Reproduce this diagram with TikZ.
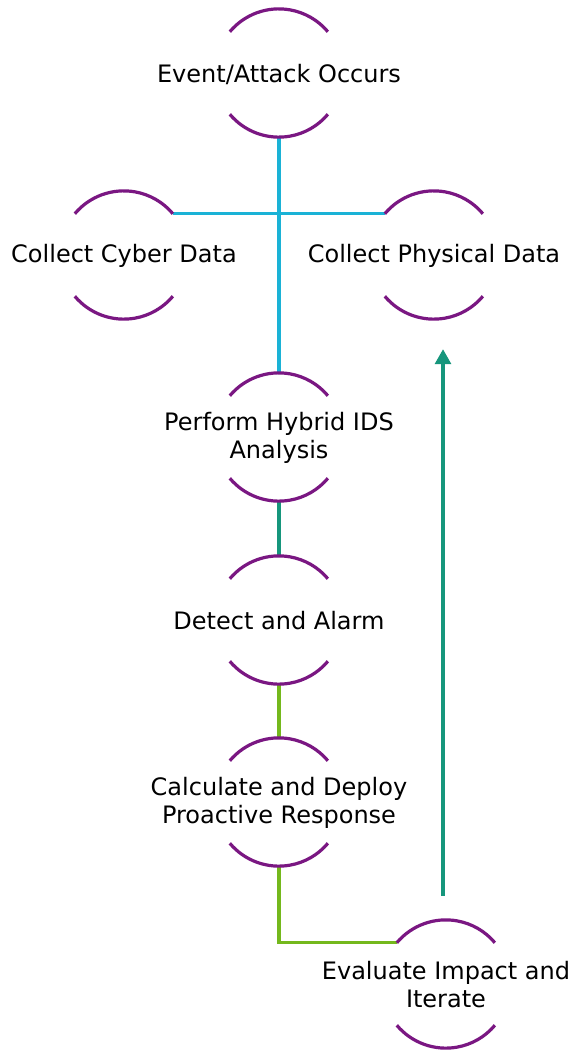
\documentclass[tikz,border=0pt]{standalone}
\usepackage{fontspec}
\setmainfont{DejaVu Sans}
\usetikzlibrary{arrows.meta}
\definecolor{bowpurple}{HTML}{7A1782}
\definecolor{linkcyan}{HTML}{1AB2D6}
\definecolor{linkteal}{HTML}{16967C}
\definecolor{linkgreen}{HTML}{74B81C}
\tikzset{
  bow/.style={circle, minimum size=128pt, inner sep=0pt, draw=none},
  bowarc/.style={draw=bowpurple, line width=3.2pt},
  txt/.style={align=center, font=\fontsize{24}{28}\selectfont, text=black, inner sep=0pt},
  cyanlink/.style={draw=linkcyan, line width=3.2pt},
  teallink/.style={draw=linkteal, line width=3.2pt},
  greenlink/.style={draw=linkgreen, line width=3.2pt},
}
\newcommand{\bowarcs}[1]{%
  \draw[bowarc] (#1.140) arc[start angle=140, end angle=40, radius=64pt];
  \draw[bowarc] (#1.220) arc[start angle=220, end angle=320, radius=64pt];
}
\begin{document}
\begin{tikzpicture}[x=1pt, y=1pt]
\useasboundingbox (0,0) rectangle (571,-1050);
\fill[white] (0,0) rectangle (571,-1050);

% shape anchors
\node[bow] (ev) at (279,-73) {};
\node[bow] (cy) at (124,-255) {};
\node[bow] (ph) at (434,-255) {};
\node[bow] (hy) at (279,-437) {};
\node[bow] (de) at (279,-620) {};
\node[bow] (ca) at (279,-802) {};
\node[bow] (it) at (446,-984) {};

% connectors
\draw[cyanlink] (ev.south) |- (cy.40);
\draw[cyanlink] (ev.south) |- (ph.140);
\draw[cyanlink] (cy.40) -| (hy.north);
\draw[cyanlink] (ph.140) -| (hy.north);
\draw[teallink] (hy.south) -- (de.north);
\draw[greenlink] (de.south) -- (ca.north);
\draw[greenlink] (ca.south) |- (it.140);
\coordinate (loopS) at ([xshift=-3pt, yshift=24pt]it.north);
\coordinate (loopE) at ([xshift=9pt, yshift=-30pt]ph.south);
\draw[teallink, -{Triangle[width=16pt, length=15pt]}] (loopS) -- (loopE);

% bracket arcs
\bowarcs{ev}
\bowarcs{cy}
\bowarcs{ph}
\bowarcs{hy}
\bowarcs{de}
\bowarcs{ca}
\bowarcs{it}

% labels
\node[txt] (evT) at ([yshift=-1pt]ev) {Event/Attack Occurs};
\node[txt] (cyT) at ([yshift=-1pt]cy) {Collect Cyber Data};
\node[txt] (phT) at ([yshift=-1pt]ph) {Collect Physical Data};
\node[txt] (hyT) at ([yshift=-1pt]hy) {Perform Hybrid IDS\\Analysis};
\node[txt] (deT) at ([yshift=-1pt]de) {Detect and Alarm};
\node[txt] (caT) at ([yshift=-1pt]ca) {Calculate and Deploy\\Proactive Response};
\node[txt] (itT) at ([yshift=-1pt]it) {Evaluate Impact and\\Iterate};
\end{tikzpicture}
\end{document}
